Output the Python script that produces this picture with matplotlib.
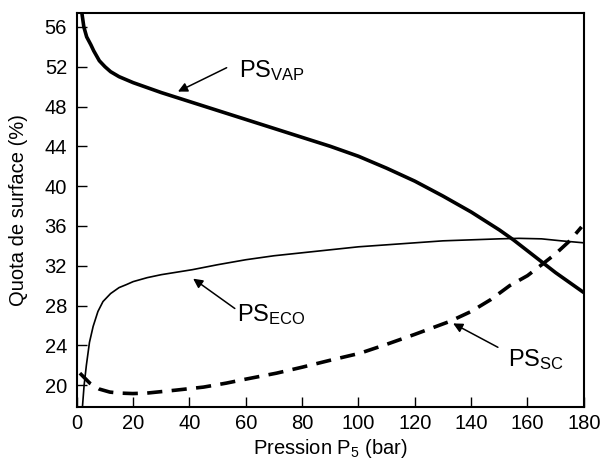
import matplotlib
matplotlib.use("Agg")
import matplotlib.pyplot as plt

plt.rcParams["font.family"] = ["Liberation Sans", "DejaVu Sans"]
plt.rcParams["mathtext.fontset"] = "custom"
plt.rcParams["mathtext.rm"] = "Liberation Sans"
plt.rcParams["mathtext.it"] = "Liberation Sans"

# PS_VAP (thick solid)
vap_x = [1.8, 2.5, 3.5, 5, 6, 8, 10, 12, 15, 20, 30, 40, 50, 60, 70, 80, 90, 100,
         110, 120, 130, 140, 150, 155, 160, 165, 170, 175, 180]
vap_y = [57.4, 56.0, 55.0, 54.2, 53.6, 52.6, 52.0, 51.5, 51.0, 50.4, 49.4, 48.5, 47.6,
         46.7, 45.8, 44.9, 44.0, 43.0, 41.8, 40.5, 39.0, 37.4, 35.6, 34.6, 33.5, 32.4,
         31.3, 30.3, 29.3]

# PS_ECO (thin solid)
eco_x = [2.0, 2.6, 3.4, 4.5, 5.8, 7.5, 9.3, 12, 15, 17.6, 20, 25, 30, 41, 50, 60, 70,
         80, 90, 100, 110, 120, 130, 140, 150, 157, 165, 172, 180]
eco_y = [17.8, 20.0, 22.0, 24.3, 25.9, 27.4, 28.4, 29.2, 29.8, 30.1, 30.4, 30.8, 31.1,
         31.6, 32.1, 32.6, 33.0, 33.3, 33.6, 33.9, 34.1, 34.3, 34.5, 34.6, 34.7, 34.75,
         34.7, 34.5, 34.3]

# PS_SC (thick dashed)
sc_x = [1.1, 2.5, 4.6, 8, 11.7, 15, 19.9, 25, 35.4, 45, 53.1, 60, 70.9, 80, 90, 100.5,
        110, 120, 132.4, 140, 147, 153.7, 160, 165.5, 170, 175, 179.2]
sc_y = [21.2, 20.8, 20.2, 19.6, 19.3, 19.2, 19.15, 19.2, 19.5, 19.8, 20.2, 20.6, 21.2,
        21.8, 22.5, 23.2, 24.1, 25.1, 26.4, 27.4, 28.6, 30.0, 31.0, 32.2, 33.2, 34.5, 35.9]

x_ticks = list(range(0, 181, 20))
y_ticks = list(range(20, 57, 4))

fig = plt.figure(figsize=(6, 4.59), dpi=100)
ax = fig.add_axes([0.128, 0.1133, 0.845, 0.8584])

ax.plot(vap_x, vap_y, color="black", lw=2.6, solid_capstyle="butt")
ax.plot(eco_x, eco_y, color="black", lw=1.2)
ax.plot(sc_x, sc_y, color="black", lw=2.6, dashes=(4.2, 2.6))

ax.set_xlim(0, 180)
ax.set_ylim(17.8, 57.4)
ax.set_xticks(x_ticks)
ax.set_yticks(y_ticks)
ax.tick_params(direction="in", length=7, width=1, labelsize=14.5,
               top=False, right=False)
ax.tick_params(axis="y", pad=7)
ax.tick_params(axis="x", pad=5)
for s in ax.spines.values():
    s.set_linewidth(1.5)

ax.set_xlabel("Pression P$_5$ (bar)", fontsize=14.5, labelpad=3)
ax.set_ylabel("Quota de surface (%)", fontsize=14.5, labelpad=12)

arrow = dict(arrowstyle="-|>", color="black", lw=1.1, mutation_scale=14,
             shrinkA=0, shrinkB=0)
ax.annotate("", xy=(35.9, 49.5), xytext=(53.2, 51.9), arrowprops=arrow)
ax.annotate("", xy=(41.3, 30.7), xytext=(56.1, 27.7), arrowprops=arrow)
ax.annotate("", xy=(133.6, 26.2), xytext=(149.5, 23.8), arrowprops=arrow)
ax.text(57.6, 51.0, "PS$_{\\mathrm{VAP}}$", fontsize=17, va="baseline", ha="left")
ax.text(56.7, 26.45, "PS$_{\\mathrm{ECO}}$", fontsize=17, va="baseline", ha="left")
ax.text(153.2, 21.9, "PS$_{\\mathrm{SC}}$", fontsize=17, va="baseline", ha="left")

fig.savefig("out.png", dpi=100)
